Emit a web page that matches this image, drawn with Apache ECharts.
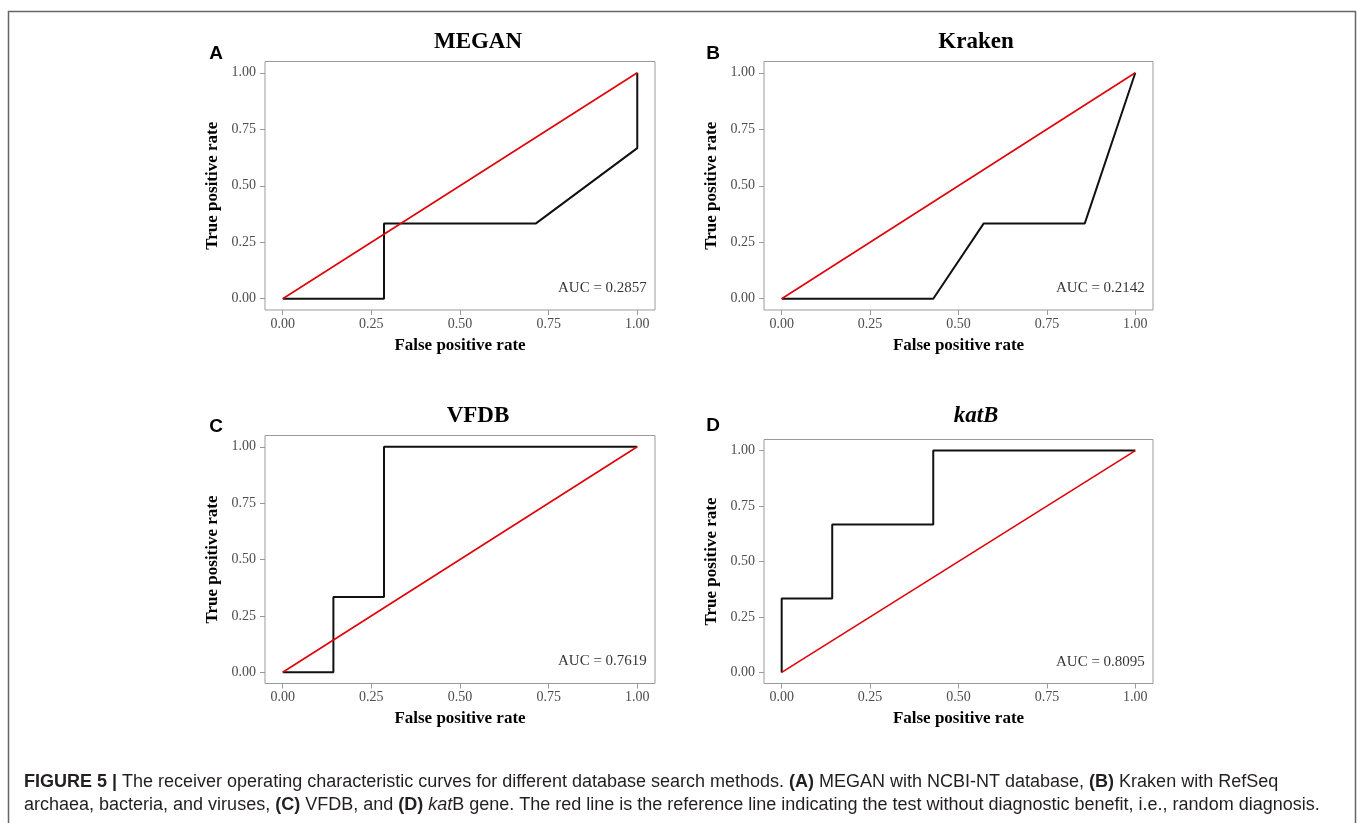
<!DOCTYPE html>
<html>
<head>
<meta charset="utf-8">
<script src="https://cdn.jsdelivr.net/npm/echarts@6/dist/echarts.min.js"></script>
<style>
html,body{margin:0;padding:0;background:#fff;}
#chart{width:1357px;height:823px;}
</style>
</head>
<body>
<div id="chart"></div>
<script>
// ---- data ----
const tickValues = [0, 0.25, 0.5, 0.75, 1];
const refLineFpr = [0, 1];
const refLineTpr = [0, 1];

const meganFpr = [0, 0.2857, 0.2857, 0.7143, 1, 1];
const meganTpr = [0, 0, 0.3333, 0.3333, 0.6667, 1];

const krakenFpr = [0, 0.4286, 0.5714, 0.8571, 1];
const krakenTpr = [0, 0, 0.3333, 0.3333, 1];

const vfdbFpr = [0, 0.1429, 0.1429, 0.2857, 0.2857, 1];
const vfdbTpr = [0, 0, 0.3333, 0.3333, 1, 1];

const katbFpr = [0, 0, 0.1429, 0.1429, 0.4286, 0.4286, 1];
const katbTpr = [0, 0.3333, 0.3333, 0.6667, 0.6667, 1, 1];

const panelTitles = ['MEGAN', 'Kraken', 'VFDB', 'katB'];
const panelLetters = ['A', 'B', 'C', 'D'];
const aucLabels = ['AUC = 0.2857', 'AUC = 0.2142', 'AUC = 0.7619', 'AUC = 0.8095'];
const xAxisTitle = 'False positive rate';
const yAxisTitle = 'True positive rate';

// ---- layout ----
const panelFpr = [meganFpr, krakenFpr, vfdbFpr, katbFpr];
const panelTpr = [meganTpr, krakenTpr, vfdbTpr, katbTpr];
const grids = [
  {left: 265, top: 61.5, width: 390, height: 248.5},
  {left: 764, top: 61.5, width: 389, height: 248.5},
  {left: 265, top: 435.5, width: 390, height: 248},
  {left: 764, top: 439.5, width: 389, height: 244}
];
const titlePos = [[478, 42], [976, 42], [478, 416], [976, 416]];
const letterPos = [[216, 54], [713, 54], [216, 427], [713, 426]];

const zip = (a, b) => a.map((v, i) => [v, b[i]]);
const serif = '"Liberation Serif", "DejaVu Serif", serif';
const sans = '"Liberation Sans", Arial, sans-serif';

const option = {
  animation: false,
  backgroundColor: '#fff',
  grid: grids.map(g => Object.assign({show: true, borderColor: '#9a9a9a', borderWidth: 1, backgroundColor: 'transparent', containLabel: false}, g)),
  xAxis: grids.map((g, i) => ({
    gridIndex: i, type: 'value', min: -0.05, max: 1.05, position: 'bottom',
    splitLine: {show: false},
    axisLine: {show: false, onZero: false},
    axisTick: {show: true, inside: false, customValues: tickValues, length: 5, lineStyle: {color: '#9a9a9a'}},
    axisLabel: {customValues: tickValues, formatter: v => v.toFixed(2), color: '#4d4d4d', fontFamily: serif, fontSize: 14, margin: 7},
    name: xAxisTitle, nameLocation: 'middle', nameGap: 27,
    nameTextStyle: {fontFamily: serif, fontWeight: 'bold', fontSize: 17, color: '#000'}
  })),
  yAxis: grids.map((g, i) => ({
    gridIndex: i, type: 'value', min: -0.05, max: 1.05, position: 'left',
    splitLine: {show: false},
    axisLine: {show: false, onZero: false},
    axisTick: {show: true, inside: false, customValues: tickValues, length: 5, lineStyle: {color: '#9a9a9a'}},
    axisLabel: {customValues: tickValues, formatter: v => v.toFixed(2), color: '#4d4d4d', fontFamily: serif, fontSize: 14, margin: 9},
    name: yAxisTitle, nameLocation: 'middle', nameGap: 44,
    nameTextStyle: {fontFamily: serif, fontWeight: 'bold', fontSize: 17, color: '#000'}
  })),
  series: [],
  graphic: []
};

for (let i = 0; i < 4; i++) {
  option.series.push({
    type: 'line', xAxisIndex: i, yAxisIndex: i, data: zip(panelFpr[i], panelTpr[i]),
    symbol: 'none', lineStyle: {color: '#111', width: 2}, silent: true, z: 2
  });
  option.series.push({
    type: 'line', xAxisIndex: i, yAxisIndex: i, data: zip(refLineFpr, refLineTpr),
    symbol: 'none', lineStyle: {color: '#e0000a', width: 1.6}, silent: true, z: 3
  });
  option.series.push({
    type: 'scatter', xAxisIndex: i, yAxisIndex: i, data: [[1.027, 0.048]],
    symbolSize: 0, silent: true,
    label: {show: true, position: [0, 0], align: 'right', verticalAlign: 'middle',
      formatter: aucLabels[i], fontFamily: serif, fontSize: 15, color: '#000'}
  });
  option.graphic.push({
    type: 'text', x: titlePos[i][0], y: titlePos[i][1], silent: true,
    style: {text: panelTitles[i], font: (i === 3 ? 'italic ' : '') + 'bold 23px ' + serif,
      fill: '#000', textAlign: 'center', textVerticalAlign: 'middle'}
  });
  option.graphic.push({
    type: 'text', x: letterPos[i][0], y: letterPos[i][1], silent: true,
    style: {text: panelLetters[i], font: 'bold 19px ' + sans, fill: '#000', textAlign: 'center', textVerticalAlign: 'middle'}
  });
}

// outer frame
option.graphic.push({
  type: 'rect', silent: true, shape: {x: 8.5, y: 11.5, width: 1347, height: 900},
  style: {fill: 'none', stroke: '#666', lineWidth: 1.5}
});

// caption
const capRich = {
  b: {fontFamily: sans, fontWeight: 'bold', fontSize: 18, color: '#231f20'},
  i: {fontFamily: sans, fontStyle: 'italic', fontSize: 18, color: '#231f20'},
  n: {fontFamily: sans, fontSize: 18, color: '#231f20'}
};
option.graphic.push({
  type: 'text', x: 24, y: 782, silent: true,
  style: {
    text: '{b|FIGURE 5 |}{n| The receiver operating characteristic curves for different database search methods. }{b|(A)}{n| MEGAN with NCBI-NT database, }{b|(B)}{n| Kraken with RefSeq}',
    rich: capRich, textVerticalAlign: 'middle', fill: '#231f20', font: '18px ' + sans
  }
});
option.graphic.push({
  type: 'text', x: 24, y: 805, silent: true,
  style: {
    text: '{n|archaea, bacteria, and viruses, }{b|(C)}{n| VFDB, and }{b|(D)}{n| }{i|kat}{n|B gene. The red line is the reference line indicating the test without diagnostic benefit, i.e., random diagnosis.}',
    rich: capRich, textVerticalAlign: 'middle', fill: '#231f20', font: '18px ' + sans
  }
});

const chart = echarts.init(document.getElementById('chart'), null, {renderer: 'canvas'});
chart.setOption(option);
</script>
</body>
</html>
